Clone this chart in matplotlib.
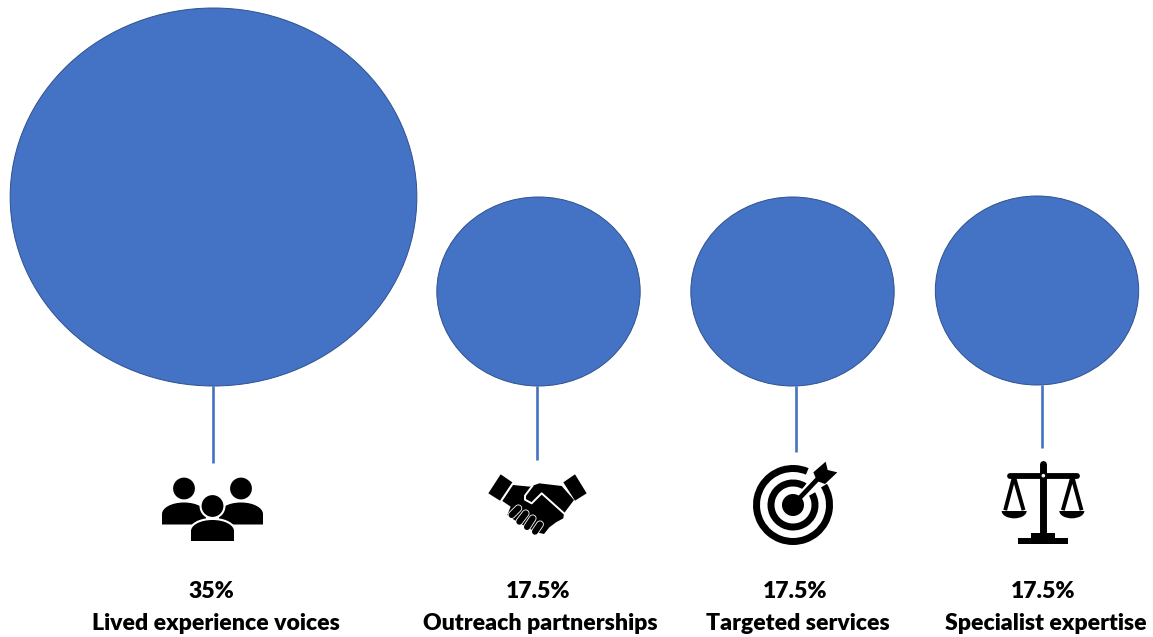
import matplotlib
matplotlib.use("Agg")
import matplotlib.pyplot as plt
from matplotlib.patches import Ellipse, Circle, Wedge, Polygon, Rectangle, PathPatch
from matplotlib.path import Path
from matplotlib.transforms import Affine2D

shares = [35, 17.5, 17.5, 17.5]
names = ["Lived experience voices", "Outreach partnerships", "Targeted services", "Specialist expertise"]

# layout, in pixels
circle_x = [213.5, 538.5, 792.5, 1037]
base_y = [386, 386, 386, 385]
stem_x = [213, 537, 796, 1042]
stem_end = [463, 460, 452, 448]
pct_x = [211.5, 538, 795, 1043]
name_x = [216, 540, 798, 1046]
W_PER_PCT = 11.62
H_PER_PCT = 10.8

BLUE = "#4472C4"
EDGE = "#2F528F"

fig = plt.figure(figsize=(11.53, 6.37), dpi=100)
ax = fig.add_axes([0, 0, 1, 1])
ax.set_xlim(0, 1153)
ax.set_ylim(637, 0)
ax.axis("off")


def dome(x0, x1, top, bottom, shoulder):
    # head-and-shoulders outline for the people icon
    mid = (x0 + x1) / 2
    d = (x1 - x0) * 0.3
    verts = [(x0, bottom), (x0, shoulder), (x0, shoulder - (shoulder - top) * 0.5), (mid - d, top), (mid, top),
             (mid + d, top), (x1, shoulder - (shoulder - top) * 0.5), (x1, shoulder), (x1, bottom), (x0, bottom)]
    codes = [Path.MOVETO, Path.LINETO, Path.CURVE4, Path.CURVE4, Path.CURVE4,
             Path.CURVE4, Path.CURVE4, Path.CURVE4, Path.LINETO, Path.CLOSEPOLY]
    return Path(verts, codes)


def people():
    for hx, x0, x1 in [(184, 162, 206), (241, 219, 263)]:
        ax.add_patch(Circle((hx, 488.5), 10.9, fc="k", ec="none", zorder=3))
        ax.add_patch(PathPatch(dome(x0, x1, 502.5, 524.5, 514), fc="k", ec="none", zorder=3))
    # white halo keeps the front figure apart from the two behind it
    ax.add_patch(Circle((212.5, 506), 13, fc="w", ec="none", zorder=4))
    ax.add_patch(PathPatch(dome(191, 234, 520, 541, 531), fc="w", ec="w", lw=3, zorder=4))
    ax.add_patch(Circle((212.5, 506), 10.9, fc="k", ec="none", zorder=5))
    ax.add_patch(PathPatch(dome(191, 234, 520, 541, 531), fc="k", ec="none", zorder=5))


def handshake():
    px = lambda pts: [(480 + x / 3, 465 + y / 3) for x, y in pts]
    for cuff in ([(62, 28), (97, 52), (60, 107), (25, 85)], [(285, 28), (320, 85), (285, 107), (250, 52)]):
        ax.add_patch(Polygon(px(cuff), fc="k", ec="none", zorder=3))
    hands = [(99, 60), (150, 65), (178, 55), (245, 63), (282, 105), (252, 145), (250, 160), (228, 172),
             (208, 187), (192, 207), (175, 203), (150, 192), (125, 178), (100, 163), (82, 150), (92, 125), (67, 108)]
    ax.add_patch(Polygon(px(hands), fc="k", ec="none", zorder=3))
    # thumb and finger gaps
    thumb = px([(157, 63), (135, 92), (135, 104), (155, 115), (185, 85), (252, 145)])
    ax.plot(*zip(*thumb), color="w", lw=1.4, zorder=4, solid_joinstyle="round")
    for a, b in [((95, 150), (115, 130)), ((118, 170), (137, 145)), ((141, 186), (158, 160)), ((165, 200), (180, 178))]:
        seg = px([a, b])
        ax.plot(*zip(*seg), color="w", lw=5.6, solid_capstyle="round", zorder=5)
        ax.plot(*zip(*seg), color="k", lw=4.4, solid_capstyle="round", zorder=6)


def target():
    cx, cy = 793, 505
    # angles are flipped because the y axis runs downward
    ax.add_patch(Wedge((cx, cy), 40, -32, 293, width=7, fc="k", ec="none", zorder=3))
    ax.add_patch(Wedge((cx, cy), 25.5, -30, 302, width=7, fc="k", ec="none", zorder=3))
    tip = (745 + 215 / 3, 455 + 75 / 3)
    ax.plot([cx, tip[0]], [cy, tip[1]], color="w", lw=6.5, zorder=4)
    ax.add_patch(Circle((cx, cy), 11, fc="k", ec="none", zorder=5))
    ax.plot([cx, tip[0]], [cy, tip[1]], color="k", lw=3.4, zorder=5)
    feather = [(205, 52), (242, 20), (248, 45), (277, 52), (240, 87), (216, 78)]
    ax.add_patch(Polygon([(745 + x / 3, 455 + y / 3) for x, y in feather], fc="k", ec="none", zorder=6))


def scales():
    px = lambda x, y: (995 + x / 3, 455 + y / 3)
    mid = px(145, 0)[0]
    ax.plot([mid, mid], [px(0, 26)[1], px(0, 245)[1]], color="k", lw=5.0, solid_capstyle="round", zorder=3)
    ax.plot([px(45, 0)[0], px(245, 0)[0]], [px(0, 62)[1]] * 2, color="k", lw=4.2, solid_capstyle="round", zorder=3)
    ax.add_patch(Circle(px(145, 62), 1.8, fc="w", ec="none", zorder=4))
    ax.add_patch(Rectangle(px(70, 248), 148 / 3, 20 / 3, fc="k", ec="none", zorder=3))
    ax.add_patch(Rectangle(px(108, 235), 72 / 3, 15 / 3, fc="k", ec="none", zorder=3))
    for apex, left, right in [(57, 32, 84), (232, 205, 258)]:
        ax.plot(*zip(px(left, 160), px(apex, 65), px(right, 160)), color="k", lw=2.8, zorder=3)
    for x0, x1 in [(20, 95), (193, 268)]:
        c = px((x0 + x1) / 2, 168)
        ax.add_patch(Wedge((0, 0), 1, 0, 180, fc="k", ec="none", zorder=3,
                           transform=Affine2D().scale((x1 - x0) / 6, 22 / 3).translate(*c) + ax.transData))


for i, v in enumerate(shares):
    w = v * W_PER_PCT
    h = v * H_PER_PCT
    ax.plot([stem_x[i]] * 2, [base_y[i], stem_end[i]], color=BLUE, lw=1.9, zorder=1, solid_capstyle="butt")
    ax.add_patch(Ellipse((circle_x[i], base_y[i] - h / 2), w, h, fc=BLUE, ec=EDGE, lw=0.7, zorder=2))
    ax.text(pct_x[i], 591, f"{v:g}%", ha="center", va="center", fontsize=16.6, fontweight=800, family="Lato", color="k")
    ax.text(name_x[i], 624, names[i], ha="center", va="center", fontsize=16.6, fontweight=800, family="Lato", color="k")

people()
handshake()
target()
scales()

fig.savefig("out.png", dpi=100, facecolor="white")
